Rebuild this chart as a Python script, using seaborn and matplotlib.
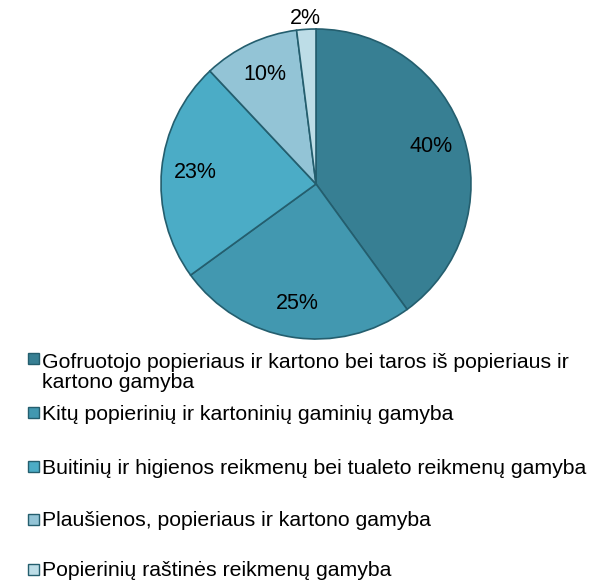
import numpy as np
import seaborn as sns
import matplotlib.pyplot as plt

# Shares of paper industry sub-sectors (%)
categories = [
    "Gofruotojo popieriaus ir kartono bei taros iš popieriaus ir\nkartono gamyba",
    "Kitų popierinių ir kartoninių gaminių gamyba",
    "Buitinių ir higienos reikmenų bei tualeto reikmenų gamyba",
    "Plaušienos, popieriaus ir kartono gamyba",
    "Popierinių raštinės reikmenų gamyba",
]
shares = [40, 25, 23, 10, 2]
colors = ["#377f93", "#4298b0", "#4bacc6", "#93c4d6", "#bddde7"]

sns.set_theme(style="white")
plt.rcParams['font.family'] = ['Liberation Sans', 'DejaVu Sans']

W, H = 592, 581
fig = plt.figure(figsize=(W / 100, H / 100), dpi=100)

# pie axes: centre (316,184) px, radius 155 px
cx, cy, r = 316, 184, 155
ax = fig.add_axes([(cx - r) / W, (H - cy - r) / H, 2 * r / W, 2 * r / H])
palette = sns.color_palette(colors)
wedges, texts, autotexts = ax.pie(
    shares, colors=palette, startangle=90, counterclock=False,
    autopct='%d%%', pctdistance=0.78,
    wedgeprops=dict(edgecolor="#245e6e", linewidth=1.2),
    textprops=dict(fontsize=15.5, color="black"),
)
# smallest slice label sits just outside the pie
w = wedges[-1]
mid = np.deg2rad((w.theta1 + w.theta2) / 2)
autotexts[-1].set_position((1.07 * np.cos(mid), 1.07 * np.sin(mid)))
ax.set_xlim(-1, 1)
ax.set_ylim(-1, 1)
ax.set_aspect('equal')
ax.axis('off')

# legend, one entry per slot as in the original
y_rows = [358, 412, 466, 519, 569]
line_gap = 22
for lab, col, yy in zip(categories, palette, y_rows):
    fig.patches.append(plt.Rectangle((28 / W, (H - yy - 5.5) / H), 11 / W, 11 / H,
                                     facecolor=col, edgecolor="#245e6e", lw=1.0,
                                     transform=fig.transFigure))
    base = yy + 7.5 + line_gap * lab.count("\n")
    fig.text(42 / W, (H - base) / H, lab, fontsize=15.3, va='baseline',
             ha='left', color='black', linespacing=1.05)

fig.savefig("out.png", dpi=100)
